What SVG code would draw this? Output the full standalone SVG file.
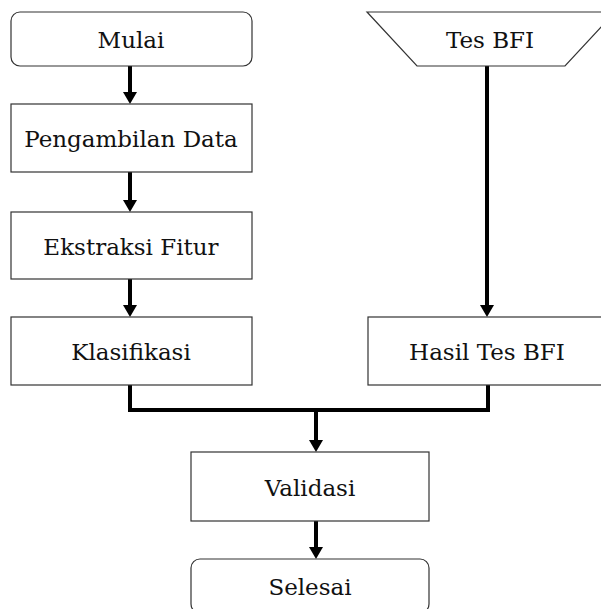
<svg xmlns="http://www.w3.org/2000/svg" width="601" height="609" viewBox="0 0 601 609">
<style>
.box{fill:#fff;stroke:#333;stroke-width:1.2}
.lbl{font-family:'DejaVu Serif',serif;font-size:23px;fill:#111;text-anchor:middle}
.con{fill:none;stroke:#000;stroke-width:4}
</style>
<rect width="601" height="609" fill="#fff"/>
<g id="connectors">
<path class="con" d="M130,66 V92"/><polygon points="123,92 137,92 130,104"/>
<path class="con" d="M130,172 V200"/><polygon points="123,200 137,200 130,212"/>
<path class="con" d="M130,279 V305"/><polygon points="123,305 137,305 130,317"/>
<path class="con" d="M487,66 V305"/><polygon points="480,305 494,305 487,317"/>
<path class="con" d="M130,385 V410 H488 V385"/>
<path class="con" d="M316,410 V440"/><polygon points="309,440 323,440 316,452"/>
<path class="con" d="M316,521 V547"/><polygon points="309,547 323,547 316,559"/>
</g>
<g id="mulai"><rect class="box" x="11" y="12" width="241" height="54" rx="9"/><text class="lbl" x="131" y="48">Mulai</text></g>
<g id="pengambilan"><rect class="box" x="11" y="104" width="241" height="68"/><text class="lbl" x="131" y="147">Pengambilan Data</text></g>
<g id="ekstraksi"><rect class="box" x="11" y="212" width="241" height="67"/><text class="lbl" x="131" y="255">Ekstraksi Fitur</text></g>
<g id="klasifikasi"><rect class="box" x="11" y="317" width="241" height="68"/><text class="lbl" x="131" y="360">Klasifikasi</text></g>
<g id="tesbfi"><polygon class="box" points="367,12 615,12 565,66 417,66"/><text class="lbl" x="490" y="48">Tes BFI</text></g>
<g id="hasil"><rect class="box" x="368" y="317" width="238" height="68"/><text class="lbl" x="487" y="360">Hasil Tes BFI</text></g>
<g id="validasi"><rect class="box" x="191" y="452" width="238" height="69"/><text class="lbl" x="310" y="496">Validasi</text></g>
<g id="selesai"><rect class="box" x="191" y="559" width="238" height="54" rx="9"/><text class="lbl" x="310" y="595">Selesai</text></g>
</svg>
